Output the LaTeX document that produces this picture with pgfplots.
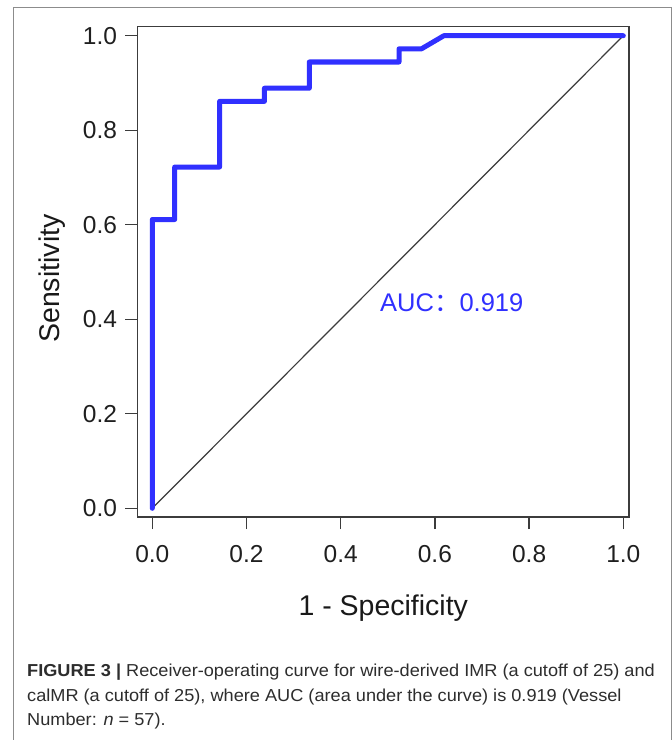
\documentclass[border=0pt]{standalone}
\usepackage{fontspec}
\setmainfont{Liberation Sans}
\newfontfamily\cjk{Noto Sans CJK SC}
\newfontfamily\capfont[FakeStretch=1.05]{Liberation Sans}
\usepackage{pgfplots}
\pgfplotsset{compat=1.18}
\definecolor{rocblue}{RGB}{48,48,255}
\definecolor{framegray}{RGB}{140,140,140}
\definecolor{captext}{RGB}{45,45,45}
\definecolor{axisgray}{RGB}{60,60,60}
\begin{document}
\begin{tikzpicture}
\useasboundingbox (0pt,0pt) rectangle (672pt,-740pt);
\fill[white] (0pt,0pt) rectangle (672pt,-740pt);
\draw[framegray, line width=1pt] (13.3pt,-745pt) -- (13.3pt,-7.3pt) -- (671pt,-7.3pt) -- (671pt,-745pt);
\begin{axis}[
  at={(137.5pt,-517pt)}, anchor=south west,
  scale only axis, width=491.5pt, height=490.5pt,
  xmin=-0.0314, xmax=1.0121, ymin=-0.0184, ymax=1.0195,
  xtick={0,0.2,0.4,0.6,0.8,1}, ytick={0,0.2,0.4,0.6,0.8,1},
  xtick pos=bottom, ytick pos=left,
  tick align=outside, major tick length=12pt,
  every tick/.style={axisgray, line width=1.3pt},
  axis line style={axisgray, line width=1.6pt},
  tick label style={font=\fontsize{24.5}{28}\selectfont, text=black!88},
  xticklabel style={yshift=-13pt},
  yticklabel style={xshift=-5pt},
  /pgf/number format/.cd, fixed, fixed zerofill, precision=1, assume math mode=true,
  /pgfplots/.cd,
  xlabel={1 - Specificity}, ylabel={Sensitivity},
  label style={font=\fontsize{28.5}{32}\selectfont, text=black!90},
  xlabel style={at={(axis description cs:0.5,-0.1998)}, anchor=base},
  ylabel style={at={(axis description cs:-0.1577,0.486)}, anchor=base, rotate=0},
  clip=false,
]
\addplot[axisgray, line width=1.2pt] coordinates {(0,0) (1,1)};
\addplot[rocblue, line width=5pt, line cap=round, line join=round] coordinates {
(0,0) (0,0.6111) (0.0476,0.6111) (0.0476,0.7222) (0.1429,0.7222) (0.1429,0.8611)
(0.2381,0.8611) (0.2381,0.8889) (0.3333,0.8889) (0.3333,0.9444) (0.5238,0.9444)
(0.5238,0.9722) (0.5714,0.9722) (0.6190,1) (1,1)};
\node[anchor=base west, inner sep=0pt, text=rocblue, font=\fontsize{25.5}{28}\selectfont] at (axis cs:0.4834,0.416) {AUC{\cjk ：}0.919};
\end{axis}
\begin{scope}[every node/.style={anchor=base west, inner sep=0pt, text=captext, font=\capfont\fontsize{17.3}{24}\selectfont}]
\node at (27pt,-676.7pt) {\textbf{FIGURE 3 |} Receiver-operating curve for wire-derived IMR (a cutoff of 25) and};
\node at (27pt,-701pt) {calMR (a cutoff of 25), where AUC (area under the curve) is 0.919 (Vessel};
\node at (27pt,-725.3pt) {Number: \textit{n} = 57).};
\end{scope}
\end{tikzpicture}
\end{document}
